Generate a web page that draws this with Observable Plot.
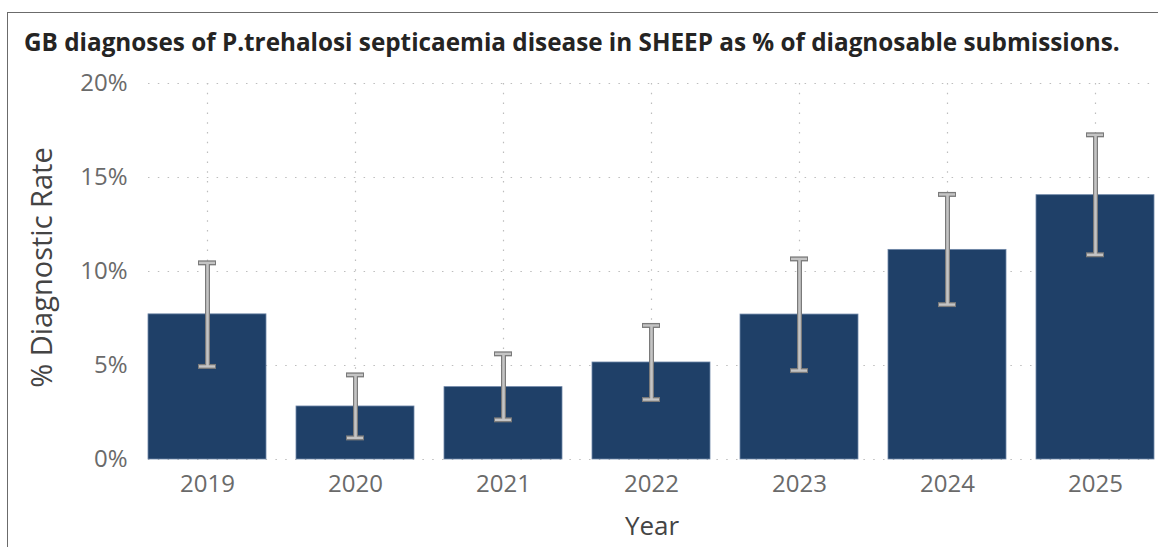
<!DOCTYPE html>
<html><head><meta charset="utf-8">
<script src="https://cdn.jsdelivr.net/npm/d3@7"></script>
<script src="https://cdn.jsdelivr.net/npm/@observablehq/plot@0.6"></script>
<style>
body{margin:0;background:#fff;}
#wrap{position:relative;width:1158px;height:547px;overflow:hidden;font-family:"Open Sans",sans-serif;}
#frame{position:absolute;left:7px;top:12px;right:-10px;bottom:-10px;border-left:1.5px solid #6b6b6b;border-top:1.5px solid #6b6b6b;}
#title{position:absolute;left:24px;top:25px;font-weight:700;font-size:18px;color:#252423;white-space:nowrap;z-index:2;}
#chart{position:absolute;left:0;top:0;}
</style>
</head><body>
<div id="wrap"><div id="frame"></div><div id="title">GB diagnoses of P.trehalosi septicaemia disease in SHEEP as % of diagnosable submissions.</div><div id="chart"></div></div>
<script>
const years = ["2019","2020","2021","2022","2023","2024","2025"];
const rates = [7.72, 2.82, 3.85, 5.16, 7.71, 11.15, 14.06];
const lower = [4.95, 1.15, 2.11, 3.19, 4.73, 8.24, 10.89];
const upper = [10.46, 4.50, 5.62, 7.13, 10.67, 14.10, 17.27];
const yTicks = [0, 5, 10, 15, 20];

const data = years.map((y, i) => ({year: y, rate: rates[i], lo: lower[i], hi: upper[i]}));

const dark = "#7a7a7a", light = "#c4c4c4";
const grid = {stroke: "#bdbdbd", strokeOpacity: 1, strokeWidth: 1.2, strokeDasharray: "1.5,8.3"};

const chart = Plot.plot({
  width: 1158,
  height: 547,
  marginTop: 83,
  marginBottom: 88,
  marginLeft: 148,
  marginRight: 3,
  style: {fontFamily: "'Open Sans', sans-serif", background: "transparent"},
  x: {domain: years, paddingInner: 0.2, paddingOuter: 0, label: null},
  y: {domain: [0, 20], label: null},
  marks: [
    Plot.gridY(yTicks, grid),
    Plot.gridX(years, grid),
    Plot.barY(data, {x: "year", y: "rate", fill: "#1f4068", stroke: "#6f87a8", strokeWidth: 0.8}),
    Plot.ruleX(data, {x: "year", y1: "lo", y2: "hi", stroke: dark, strokeWidth: 5}),
    Plot.tickY(data, {x: "year", y: "hi", stroke: dark, strokeWidth: 5, insetLeft: 50, insetRight: 50}),
    Plot.tickY(data, {x: "year", y: "lo", stroke: dark, strokeWidth: 5, insetLeft: 50, insetRight: 50}),
    Plot.ruleX(data, {x: "year", y1: "lo", y2: "hi", stroke: light, strokeWidth: 2.6}),
    Plot.tickY(data, {x: "year", y: "hi", stroke: light, strokeWidth: 2.4, insetLeft: 51, insetRight: 51}),
    Plot.tickY(data, {x: "year", y: "lo", stroke: light, strokeWidth: 2.4, insetLeft: 51, insetRight: 51}),
    Plot.axisY({ticks: yTicks, tickSize: 0, tickPadding: 21, tickFormat: d => d + "%", fontSize: 24, fill: "#6a6a6a", label: null}),
    Plot.axisX({tickSize: 0, tickPadding: 15, fontSize: 24, fill: "#6a6a6a", label: null}),
    Plot.text(["% Diagnostic Rate"], {frameAnchor: "left", textAnchor: "middle", dx: -106, dy: -4, rotate: -90, fontSize: 29, fill: "#444444", text: d => d}),
    Plot.text(["Year"], {frameAnchor: "bottom", dy: 75, fontSize: 26, fill: "#444444", text: d => d})
  ]
});
document.getElementById("chart").appendChild(chart);

// fit title width to reference span
const t = document.getElementById("title");
const w = t.getBoundingClientRect().width;
t.style.fontSize = (18 * 1096 / w).toFixed(2) + "px";
</script>
</body></html>
